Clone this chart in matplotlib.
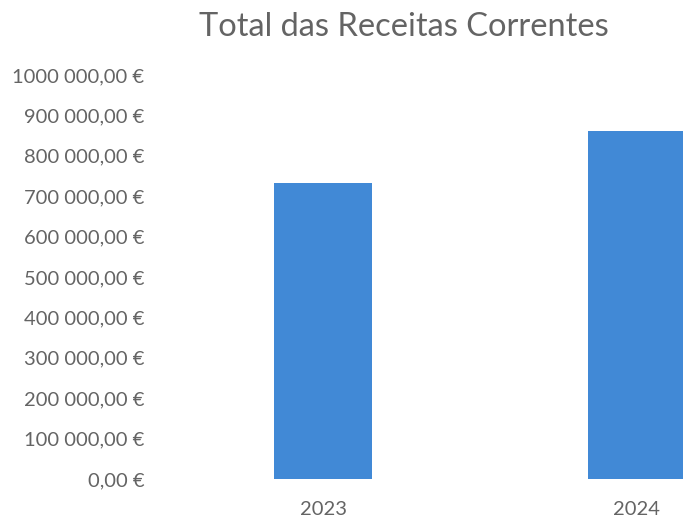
import matplotlib.pyplot as plt

# data
years = ['2023', '2024']
receitas = [733000, 861000]
y_ticks = [0, 100000, 200000, 300000, 400000, 500000, 600000, 700000, 800000, 900000, 1000000]
y_labels = ['0,00 €', '100 000,00 €', '200 000,00 €', '300 000,00 €', '400 000,00 €',
            '500 000,00 €', '600 000,00 €', '700 000,00 €', '800 000,00 €', '900 000,00 €',
            '1000 000,00 €']

plt.rcParams['font.family'] = ['Lato', 'DejaVu Sans']
grey = '#646464'

fig = plt.figure(figsize=(6.83, 5.23), dpi=100)
ax = fig.add_axes([166.5 / 683, 44 / 523, 1 - 166.5 / 683, 404 / 523])

x = list(range(len(years)))
ax.bar(x, receitas, width=0.31, color='#4189d6')

ax.set_xlim(-0.5, 1.15)
ax.set_ylim(0, 1000000)
ax.set_xticks(x)
ax.set_xticklabels(years)
ax.set_yticks(y_ticks)
ax.set_yticklabels(y_labels)
ax.tick_params(axis='y', length=0, pad=16, labelsize=14.5, labelcolor=grey)
ax.tick_params(axis='x', length=0, pad=16, labelsize=14.5, labelcolor=grey)
for s in ax.spines.values():
    s.set_visible(False)

fig.text(0.5915, 0.948, 'Total das Receitas Correntes', ha='center', va='center',
         fontsize=23.5, color=grey)

fig.savefig('out.png', dpi=100)
